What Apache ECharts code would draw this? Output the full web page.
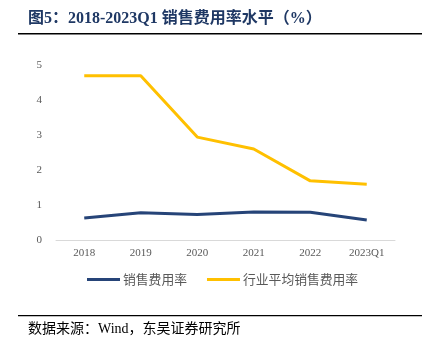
<!DOCTYPE html>
<html><head><meta charset="utf-8">
<script src="https://cdn.jsdelivr.net/npm/echarts@6/dist/echarts.min.js"></script>
<style>html,body{margin:0;padding:0;background:#fff}#c{width:428px;height:351px}</style>
</head><body><div id="c"></div>
<script>
const categories = ['2018','2019','2020','2021','2022','2023Q1'];
const salesRate = [0.63, 0.78, 0.73, 0.80, 0.79, 0.57];
const industryRate = [4.69, 4.69, 2.94, 2.60, 1.69, 1.59];
const seriesNames = ['销售费用率','行业平均销售费用率'];
const titleText = '图5：2018-2023Q1 销售费用率水平（%）';
const sourceText = '数据来源：Wind，东吴证券研究所';

const chart = echarts.init(document.getElementById('c'));
chart.setOption({
  animation: false,
  grid: {left: 56, right: 33, top: 65, bottom: 111},
  xAxis: {
    type: 'category', data: categories, boundaryGap: true,
    axisLine: {lineStyle: {color: '#d9d9d9', width: 1}},
    axisTick: {show: false},
    axisLabel: {color: '#595959', fontFamily: 'Liberation Serif', fontSize: 11, margin: 8}
  },
  yAxis: {
    type: 'value', min: 0, max: 5, interval: 1,
    axisLine: {show: false}, axisTick: {show: false},
    splitLine: {show: false},
    axisLabel: {color: '#595959', fontFamily: 'Liberation Serif', fontSize: 11, margin: 14}
  },
  legend: {
    bottom: 60, left: 82, itemGap: 20, itemWidth: 33, itemHeight: 3,
    icon: 'rect', itemStyle: {borderWidth: 0},
    textStyle: {color: '#595959', fontSize: 12.8, fontFamily: 'Noto Sans CJK SC', padding: [0,0,0,-2]},
    data: seriesNames
  },
  series: [
    {name: seriesNames[0], type: 'line', data: salesRate, symbol: 'none',
     lineStyle: {color: '#264478', width: 3}, itemStyle: {color: '#264478'}},
    {name: seriesNames[1], type: 'line', data: industryRate, symbol: 'none',
     lineStyle: {color: '#ffc000', width: 3}, itemStyle: {color: '#ffc000'}}
  ],
  graphic: [
    {type: 'text', left: 28, top: 11, style: {text: titleText, fill: '#1f3864',
      font: 'bold 16px "Liberation Serif", "Noto Sans CJK SC"'}},
    {type: 'rect', shape: {x: 18, y: 33, width: 404, height: 1.5}, style: {fill: '#000'}},
    {type: 'rect', shape: {x: 18, y: 315, width: 404, height: 1.2}, style: {fill: '#000'}},
    {type: 'text', left: 28, top: 322, style: {text: sourceText, fill: '#000',
      font: '14px "Liberation Serif", "Noto Sans CJK SC"'}}
  ]
});
</script></body></html>
